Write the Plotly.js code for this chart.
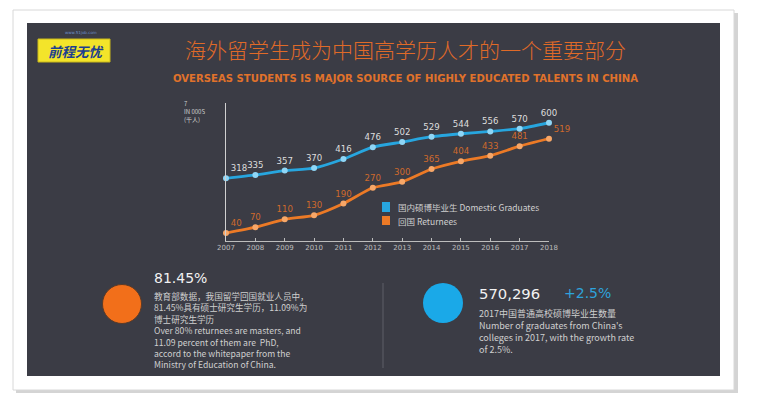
<!DOCTYPE html>
<html>
<head>
<meta charset="utf-8">
<script src="https://cdn.plot.ly/plotly-3.0.1.min.js"></script>
<style>html,body{margin:0;padding:0;background:#fff;}#chart{width:767px;height:399px;}</style>
</head>
<body>
<div id="chart"></div>
<script>
// ---- data ----
const years = [2007, 2008, 2009, 2010, 2011, 2012, 2013, 2014, 2015, 2016, 2017, 2018];
const yearLabels = ["2007", "2008", "2009", "2010", "2011", "2012", "2013", "2014", "2015", "2016", "2017", "2018"];
const domestic = [318, 335, 357, 370, 416, 476, 502, 529, 544, 556, 570, 600];
const returnees = [40, 70, 110, 130, 190, 270, 300, 365, 404, 433, 481, 519];
const seriesNames = ["国内硕博毕业生 Domestic Graduates", "回国 Returnees"];
const leftLines = ["教育部数据，我国留学回国就业人员中，", "81.45%具有硕士研究生学历，11.09%为", "博士研究生学历",
  "Over 80% returnees are masters, and", "11.09 percent of them are  PhD,", "accord to the whitepaper from the", "Ministry of Education of China."];
const rightLines = ["2017中国普通高校硕博毕业生数量", "Number of graduates from China's", "colleges in 2017, with the growth rate", "of 2.5%."];

// ---- helpers: pixel -> paper ----
const W = 767, H = 399;
const X = p => p / W;
const Y = p => 1 - p / H;
const FONT = "DejaVu Sans, sans-serif";
const CJK = "Noto Sans CJK SC, sans-serif";

const posDom = domestic.map((v, i) => i === 0 ? "top right" : "top center");
const posRet = returnees.map((v, i) => (i === 0 || i === returnees.length - 1) ? "top right" : "top center");

const traces = [
  {
    x: years, y: domestic, type: "scatter", mode: "lines+markers+text",
    name: seriesNames[0], showlegend: false, cliponaxis: false,
    line: {color: "#27a6df", width: 2.8, shape: "spline", smoothing: 0.6},
    marker: {color: "#8fd6f6", size: 6},
    text: domestic.map(String), textposition: posDom,
    textfont: {family: FONT, size: 8.6, color: "#dedede"},
    hoverinfo: "x+y"
  },
  {
    x: years, y: returnees, type: "scatter", mode: "lines+markers+text",
    name: seriesNames[1], showlegend: false, cliponaxis: false,
    line: {color: "#ec7a26", width: 2.8, shape: "spline", smoothing: 0.6},
    marker: {color: "#f7a768", size: 6},
    text: returnees.map(String), textposition: posRet,
    textfont: {family: FONT, size: 8.6, color: "#cf6a2c"},
    hoverinfo: "x+y"
  }
];

const shapes = [
  // card shadow + card
  {type: "rect", xref: "paper", yref: "paper", layer: "below", x0: X(16), x1: X(738), y0: Y(393), y1: Y(13), fillcolor: "#d4d4d4", line: {width: 0}},
  {type: "rect", xref: "paper", yref: "paper", layer: "below", x0: X(13), x1: X(734), y0: Y(390), y1: Y(10), fillcolor: "#ffffff", line: {color: "#d8d8d8", width: 1}},
  // dark panel
  {type: "rect", xref: "paper", yref: "paper", layer: "below", x0: X(27), x1: X(720), y0: Y(376), y1: Y(23), fillcolor: "#3b3c45", line: {width: 0}},
  // logo box
  {type: "rect", xref: "paper", yref: "paper", layer: "below", x0: X(38), x1: X(110), y0: Y(62), y1: Y(39), fillcolor: "#f3e42a", line: {color: "#c9b81a", width: 1}},
  // legend squares
  {type: "rect", xref: "paper", yref: "paper", x0: X(382), x1: X(390), y0: Y(212), y1: Y(202), fillcolor: "#27a6df", line: {width: 0}},
  {type: "rect", xref: "paper", yref: "paper", x0: X(382), x1: X(390), y0: Y(225), y1: Y(216), fillcolor: "#ec7a26", line: {width: 0}},
  // divider
  {type: "line", xref: "paper", yref: "paper", x0: X(383), x1: X(383), y0: Y(368), y1: Y(283), line: {color: "#5e5f68", width: 1}},
  // circles
  {type: "circle", xref: "paper", yref: "paper", x0: X(102.5), x1: X(141.5), y0: Y(323.5), y1: Y(284.5), fillcolor: "#f26f1a", line: {color: "#5a3a28", width: 1}},
  {type: "circle", xref: "paper", yref: "paper", x0: X(423), x1: X(463), y0: Y(323), y1: Y(283), fillcolor: "#1aa9e8", line: {width: 0}}
];

function ann(text, x, y, size, color, opts) {
  return Object.assign({
    text: text, xref: "paper", yref: "paper", x: X(x), y: Y(y),
    xanchor: "left", yanchor: "middle", showarrow: false,
    font: {family: FONT, size: size, color: color}, align: "left"
  }, opts || {});
}

const annotations = [
  // titles
  ann("海外留学生成为中国高学历人才的一个重要部分", 405, 49, 21, "#e06a28", {xanchor: "center", font: {family: CJK, size: 21, color: "#e06a28", weight: 300}}),
  ann("<b>OVERSEAS STUDENTS IS MAJOR SOURCE OF HIGHLY EDUCATED TALENTS IN CHINA</b>", 405, 78, 10.1, "#e0722b", {xanchor: "center"}),
  // logo
  ann("<b><i>前程无忧</i></b>", 76, 51, 13.5, "#1d3f8f", {xanchor: "center", font: {family: CJK, size: 13.5, color: "#1d3f8f"}}),
  ann("www.51job.com", 81, 33, 4, "#6b8fc8", {xanchor: "center"}),
  // y-axis unit
  ann("7<br>IN 000S<br>(千人)", 182, 111, 6, "#cfcfcf", {font: {family: CJK, size: 6, color: "#cfcfcf"}}),
  // legend text
  ann(seriesNames[0], 396, 207, 8.5, "#d0d0d0", {font: {family: CJK, size: 8.5, color: "#d0d0d0"}}),
  ann(seriesNames[1], 396, 220.5, 8.5, "#d0d0d0", {font: {family: CJK, size: 8.5, color: "#d0d0d0"}}),
  // headline numbers
  ann("81.45%", 152, 278, 14, "#f2f2f2"),
  ann("570,296", 477, 293, 14.8, "#f2f2f2"),
  ann("+2.5%", 562, 293, 14, "#2ea3dc")
];
leftLines.forEach((t, i) => annotations.push(
  ann(t, 152, 296 + i * 11.4, 8.6, "#cfcfcf", {font: {family: CJK, size: 8.6, color: "#cfcfcf"}})));
rightLines.forEach((t, i) => annotations.push(
  ann(t, 477, 313 + i * 12.0, 9.0, "#cfcfcf", {font: {family: CJK, size: 9.0, color: "#cfcfcf"}})));

const layout = {
  width: W, height: H,
  margin: {l: 0, r: 0, t: 0, b: 0, pad: 0},
  paper_bgcolor: "#ffffff",
  plot_bgcolor: "rgba(0,0,0,0)",
  showlegend: false,
  xaxis: {
    domain: [X(226), X(549)], range: [2007, 2018],
    tickvals: years, ticktext: yearLabels,
    tickfont: {family: FONT, size: 7, color: "#bdbdbd"},
    showgrid: false, zeroline: false, showline: true, linecolor: "#bdbdbd", linewidth: 1,
    ticks: "inside", ticklen: 3, tickcolor: "#bdbdbd", fixedrange: true
  },
  yaxis: {
    domain: [Y(241), Y(103)], range: [0, 700],
    showgrid: false, zeroline: false, showline: true, linecolor: "#d0d0d0", linewidth: 1.5,
    showticklabels: false, ticks: "", fixedrange: true
  },
  shapes: shapes,
  annotations: annotations
};

Plotly.newPlot("chart", traces, layout, {displayModeBar: false, staticPlot: true});
</script>
</body>
</html>
